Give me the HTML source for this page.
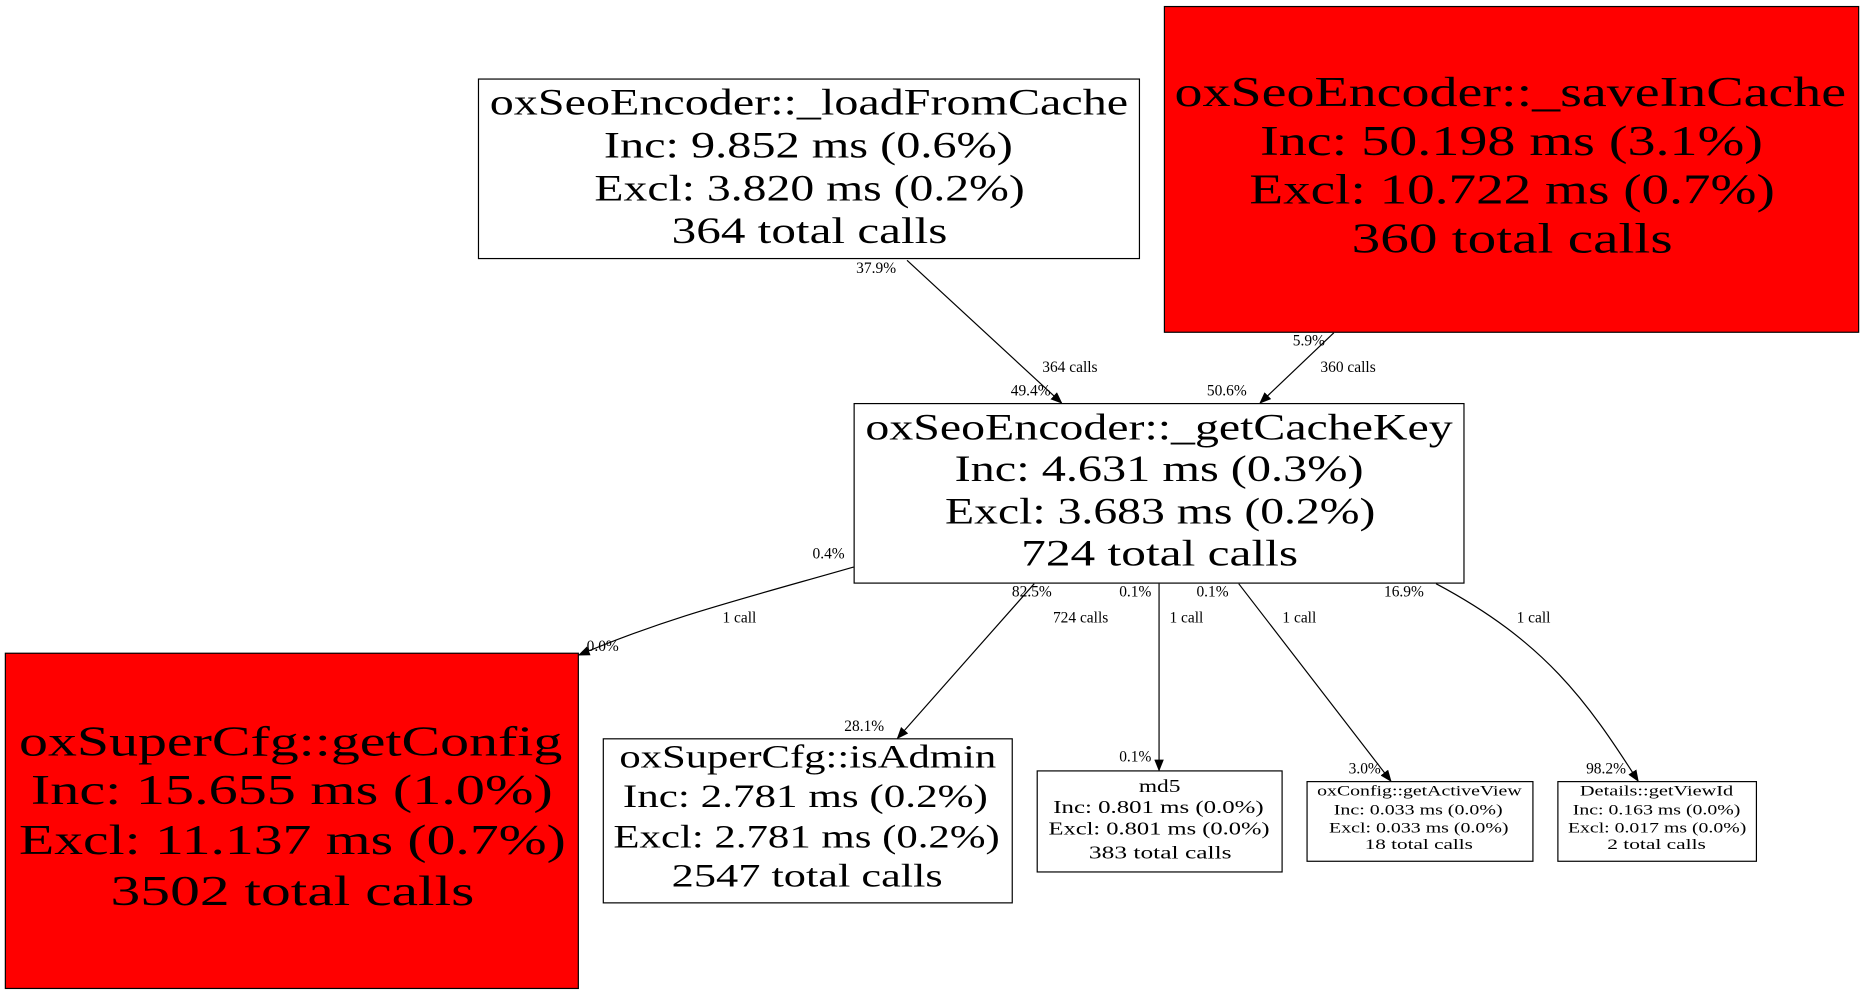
<!DOCTYPE html>
<html><head><meta charset="utf-8"><style>
html,body{margin:0;padding:0;background:#fff;width:1864px;height:995px;overflow:hidden}
svg{display:block}
text{font-family:"Liberation Serif","DejaVu Serif",serif;fill:#000}
.l{font-size:13px}
</style></head><body>
<svg width="1864" height="995" viewBox="0 0 1568 837" preserveAspectRatio="none" xmlns="http://www.w3.org/2000/svg">
<defs><marker id="a" markerWidth="10" markerHeight="8" refX="9" refY="4" orient="auto" markerUnits="userSpaceOnUse"><path d="M0,0 L10,4 L0,8 z" fill="#000"/></marker></defs>
<g fill="none" stroke="#000" stroke-width="1">
<rect x="402.5" y="66.5" width="556" height="151" fill="#fff"/>
<rect x="979.5" y="5.5" width="584" height="274" fill="#f00"/>
<rect x="718.5" y="339.5" width="513" height="151" fill="#fff"/>
<rect x="4.5" y="549.5" width="482" height="282" fill="#f00"/>
<rect x="507.5" y="621.5" width="344" height="138" fill="#fff"/>
<rect x="872.5" y="648.5" width="206" height="85" fill="#fff"/>
<rect x="1099.5" y="657.5" width="190" height="67" fill="#fff"/>
<rect x="1310.5" y="657.5" width="167" height="67" fill="#fff"/>
<path d="M763,219 L893,339" marker-end="url(#a)"/>
<path d="M1122,280 L1060,339" marker-end="url(#a)"/>
<path d="M718,477 C620,505 560,520 487,551" marker-end="url(#a)"/>
<path d="M870,491 L755,621" marker-end="url(#a)"/>
<path d="M975,491 L975,648" marker-end="url(#a)"/>
<path d="M1042,491 L1170,657" marker-end="url(#a)"/>
<path d="M1208,491 C1300,540 1335,590 1378,657" marker-end="url(#a)"/>
</g>
<g dominant-baseline="central" lengthAdjust="spacingAndGlyphs">
<g font-size="31">
<text x="412" y="86" textLength="537" lengthAdjust="spacingAndGlyphs">oxSeoEncoder::_loadFromCache</text>
<text x="508" y="122" textLength="344" lengthAdjust="spacingAndGlyphs">Inc: 9.852 ms (0.6%)</text>
<text x="500" y="158" textLength="362" lengthAdjust="spacingAndGlyphs">Excl: 3.820 ms (0.2%)</text>
<text x="565" y="194" textLength="232" lengthAdjust="spacingAndGlyphs">364 total calls</text>
<text x="728" y="359" textLength="494" lengthAdjust="spacingAndGlyphs">oxSeoEncoder::_getCacheKey</text>
<text x="803" y="394" textLength="344" lengthAdjust="spacingAndGlyphs">Inc: 4.631 ms (0.3%)</text>
<text x="795" y="430" textLength="362" lengthAdjust="spacingAndGlyphs">Excl: 3.683 ms (0.2%)</text>
<text x="859" y="465" textLength="233" lengthAdjust="spacingAndGlyphs">724 total calls</text>
</g>
<g font-size="36">
<text x="988" y="78" textLength="565" lengthAdjust="spacingAndGlyphs">oxSeoEncoder::_saveInCache</text>
<text x="1060" y="119" textLength="423" lengthAdjust="spacingAndGlyphs">Inc: 50.198 ms (3.1%)</text>
<text x="1051" y="160" textLength="442" lengthAdjust="spacingAndGlyphs">Excl: 10.722 ms (0.7%)</text>
<text x="1137" y="201" textLength="270" lengthAdjust="spacingAndGlyphs">360 total calls</text>
<text x="16" y="624" textLength="457" lengthAdjust="spacingAndGlyphs">oxSuperCfg::getConfig</text>
<text x="26" y="665" textLength="439" lengthAdjust="spacingAndGlyphs">Inc: 15.655 ms (1.0%)</text>
<text x="16" y="707" textLength="460" lengthAdjust="spacingAndGlyphs">Excl: 11.137 ms (0.7%)</text>
<text x="93" y="750" textLength="306" lengthAdjust="spacingAndGlyphs">3502 total calls</text>
</g>
<g font-size="28">
<text x="521" y="637" textLength="317" lengthAdjust="spacingAndGlyphs">oxSuperCfg::isAdmin</text>
<text x="524" y="670" textLength="307" lengthAdjust="spacingAndGlyphs">Inc: 2.781 ms (0.2%)</text>
<text x="516" y="704" textLength="325" lengthAdjust="spacingAndGlyphs">Excl: 2.781 ms (0.2%)</text>
<text x="565" y="737" textLength="228" lengthAdjust="spacingAndGlyphs">2547 total calls</text>
</g>
<g font-size="15">
<text x="958" y="661" textLength="35" lengthAdjust="spacingAndGlyphs">md5</text>
<text x="886" y="679" textLength="177" lengthAdjust="spacingAndGlyphs">Inc: 0.801 ms (0.0%)</text>
<text x="882" y="697" textLength="186" lengthAdjust="spacingAndGlyphs">Excl: 0.801 ms (0.0%)</text>
<text x="916" y="717" textLength="120" lengthAdjust="spacingAndGlyphs">383 total calls</text>
</g>
<g font-size="12.5">
<text x="1108" y="666" textLength="172" lengthAdjust="spacingAndGlyphs">oxConfig::getActiveView</text>
<text x="1122" y="682" textLength="142" lengthAdjust="spacingAndGlyphs">Inc: 0.033 ms (0.0%)</text>
<text x="1118" y="697" textLength="151" lengthAdjust="spacingAndGlyphs">Excl: 0.033 ms (0.0%)</text>
<text x="1148" y="711" textLength="91" lengthAdjust="spacingAndGlyphs">18 total calls</text>
<text x="1329" y="666" textLength="129" lengthAdjust="spacingAndGlyphs">Details::getViewId</text>
<text x="1323" y="682" textLength="141" lengthAdjust="spacingAndGlyphs">Inc: 0.163 ms (0.0%)</text>
<text x="1319" y="697" textLength="150" lengthAdjust="spacingAndGlyphs">Excl: 0.017 ms (0.0%)</text>
<text x="1352" y="711" textLength="83" lengthAdjust="spacingAndGlyphs">2 total calls</text>
</g>
</g>
<g class="l" text-anchor="middle" dominant-baseline="central">
<text x="737" y="226">37.9%</text>
<text x="900" y="309">364 calls</text>
<text x="867" y="329">49.4%</text>
<text x="1032" y="329">50.6%</text>
<text x="1101" y="287">5.9%</text>
<text x="1134" y="309">360 calls</text>
<text x="697" y="466">0.4%</text>
<text x="622" y="520">1 call</text>
<text x="507" y="544">0.0%</text>
<text x="868" y="498">82.5%</text>
<text x="909" y="520">724 calls</text>
<text x="955" y="498">0.1%</text>
<text x="998" y="520">1 call</text>
<text x="1020" y="498">0.1%</text>
<text x="1093" y="520">1 call</text>
<text x="1181" y="498">16.9%</text>
<text x="1290" y="520">1 call</text>
<text x="727" y="611">28.1%</text>
<text x="955" y="637">0.1%</text>
<text x="1148" y="647">3.0%</text>
<text x="1351" y="647">98.2%</text>
</g>
</svg>
</body></html>
